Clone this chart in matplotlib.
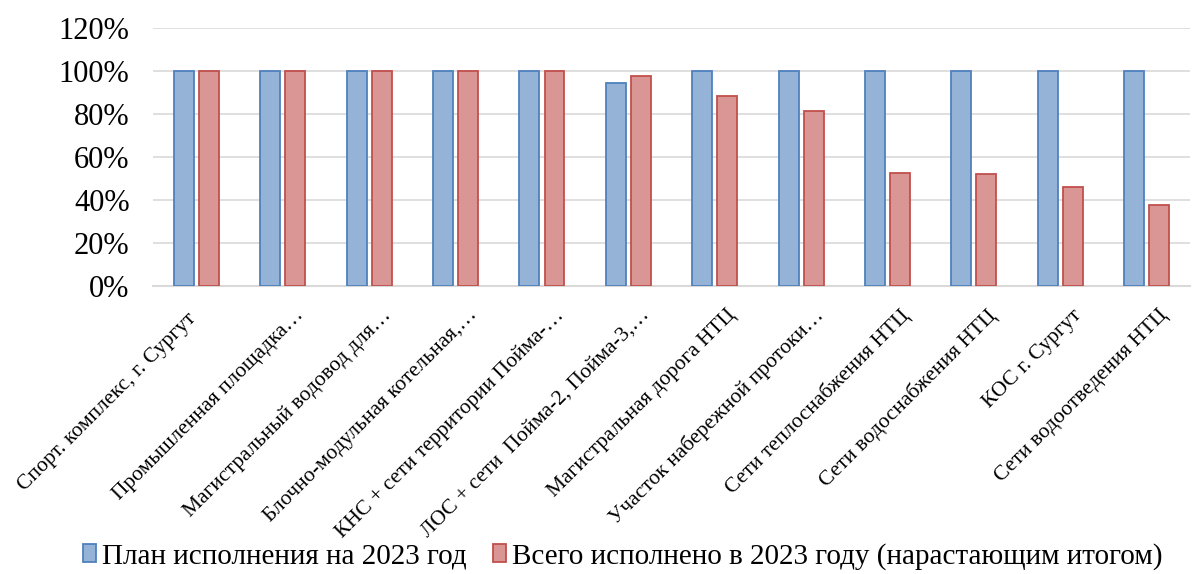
import matplotlib
matplotlib.use("Agg")
import matplotlib.pyplot as plt
import matplotlib.transforms as mtransforms
import numpy as np
from matplotlib.ticker import FuncFormatter

categories = [
    "Спорт. комплекс, г. Сургут",
    "Промышленная площадка…",
    "Магистральный водовод для…",
    "Блочно-модульная котельная,…",
    "КНС + сети территории Пойма-…",
    "ЛОС + сети  Пойма-2, Пойма-3,…",
    "Магистральная дорога НТЦ",
    "Участок набережной протоки…",
    "Сети теплоснабжения НТЦ",
    "Сети водоснабжения НТЦ",
    "КОС г. Сургут",
    "Сети водоотведения НТЦ",
]
plan = [100, 100, 100, 100, 100, 94.5, 100, 100, 100, 100, 100, 100]
done = [100, 100, 100, 100, 100, 97.5, 88.2, 81.3, 52.6, 51.9, 46.1, 37.5]
series_names = ["План исполнения на 2023 год",
                "Всего исполнено в 2023 году (нарастающим итогом)"]

plt.rcParams['font.family'] = ['Liberation Serif', 'DejaVu Serif']

fig = plt.figure(figsize=(11.97, 5.74), dpi=100)
ax = fig.add_axes([0.128, 0.502, 0.866, 0.449])

x = np.arange(len(categories))
w = 0.23
off = 0.145
ax.bar(x - off, plan, w, color="#95B3D7", edgecolor="#4F81BD", linewidth=1.3,
       label=series_names[0], zorder=3)
ax.bar(x + off, done, w, color="#D99694", edgecolor="#C0504D", linewidth=1.3,
       label=series_names[1], zorder=3)

ax.set_xlim(-0.5, len(categories) - 0.5)
ax.set_ylim(0, 120)
ax.set_yticks(np.arange(0, 121, 20))
ax.yaxis.set_major_formatter(FuncFormatter(lambda v, p: f"{int(v)}%"))
ax.grid(axis='y', color="#D9D9D9", linewidth=1.2, zorder=0)
for s in ['top', 'right', 'left']:
    ax.spines[s].set_visible(False)
ax.spines['bottom'].set_color("#D9D9D9")
ax.spines['bottom'].set_linewidth(1.5)
ax.tick_params(axis='y', length=0, labelsize=22, pad=17)
ax.tick_params(axis='x', length=0, pad=10)
ax.set_xticks(x)
labels = ax.set_xticklabels(categories, rotation=45, ha='right',
                            rotation_mode='anchor', fontsize=15.5)
for i, lab in enumerate(labels):
    dx, dy = (-0.10, -0.10) if i == 0 else (0.12, -0.06)
    lab.set_transform(lab.get_transform() +
                      mtransforms.ScaledTranslation(dx, dy, fig.dpi_scale_trans))

fig.legend(loc='lower center', bbox_to_anchor=(0.52, -0.038), ncol=2,
           frameon=False, fontsize=21, handlelength=0.45, handleheight=0.55,
           handletextpad=0.2, columnspacing=0.9)

fig.savefig("out.png", dpi=100)
